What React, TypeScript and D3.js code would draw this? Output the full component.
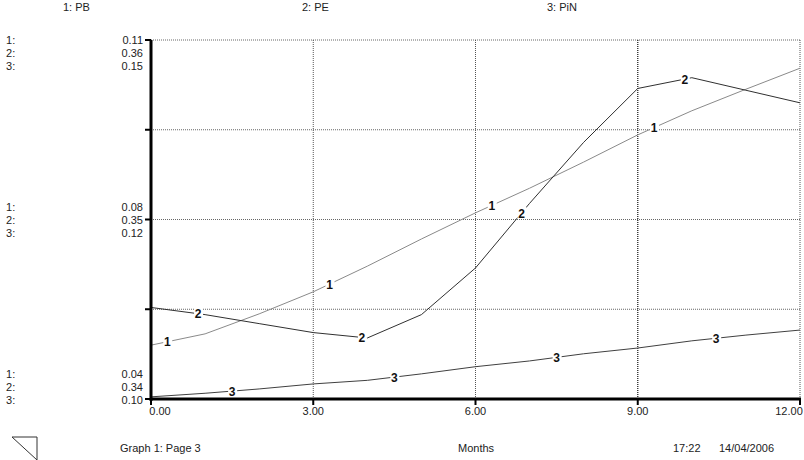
import React from "react";
import * as d3 from "d3";

const months = [0, 1, 2, 3, 4, 5, 6, 7, 8, 9, 10, 11, 12];
const pb = [0.0505, 0.0527, 0.0566, 0.0609, 0.0659, 0.0712, 0.0763, 0.0811, 0.0862, 0.0915, 0.0962, 0.1004, 0.1045];
const pe = [0.3451, 0.3447, 0.3442, 0.3437, 0.3434, 0.3447, 0.3473, 0.3509, 0.3543, 0.3573, 0.3579, 0.3572, 0.3565];
const pin = [0.1003, 0.1008, 0.1014, 0.1021, 0.1026, 0.1035, 0.1045, 0.1053, 0.1063, 0.1071, 0.1081, 0.1089, 0.1096];

const seriesNames = ["1: PB", "2: PE", "3: PiN"];
const domains: [number, number][] = [[0.04, 0.11], [0.34, 0.36], [0.10, 0.15]];
const topLabels = ["0.11", "0.36", "0.15"];
const midLabels = ["0.08", "0.35", "0.12"];
const botLabels = ["0.04", "0.34", "0.10"];
const xTicks = [0, 3, 6, 9, 12];
const xTickLabels = ["0.00", "3.00", "6.00", "9.00", "12.00"];
const labelPos = [
  [0.3, 3.3, 6.3, 9.3],
  [0.87, 3.9, 6.85, 9.87],
  [1.5, 4.5, 7.5, 10.45],
];
const colors = ["#8a8a8a", "#303030", "#404040"];

const L = 151, R = 800, T = 40, B = 399;
const FONT = "'Liberation Sans', Arial, sans-serif";

export default function App() {
  const x = d3.scaleLinear().domain([0, 12]).range([L, R]);
  const data = [pb, pe, pin];
  const ys = domains.map((d) => d3.scaleLinear().domain(d).range([B, T]));
  const gridY = [0, 1, 2, 3].map((i) => T + ((B - T) * i) / 4);

  const interp = (arr: number[], t: number) => {
    const i = Math.min(Math.floor(t), 11);
    const f = t - i;
    return arr[i] * (1 - f) + arr[i + 1] * f;
  };

  return (
    <svg width={804} height={460} style={{ position: "absolute", left: 0, top: 0, fontFamily: FONT }}>
      <rect width={804} height={460} fill="#fff" />
      {/* header */}
      {seriesNames.map((n, i) => (
        <text key={n} x={[63, 302, 547][i]} y={11} fontSize={11} fill="#222">{n}</text>
      ))}
      {/* grid */}
      {gridY.map((gy) => (
        <line key={"gy" + gy} x1={L} x2={R} y1={gy} y2={gy} stroke="#666" strokeWidth={1} strokeDasharray="1,1" />
      ))}
      {xTicks.slice(1).map((t) => (
        <line key={"gx" + t} x1={x(t)} x2={x(t)} y1={T} y2={B} stroke={t === 9 ? "#333" : "#555"} strokeWidth={t === 9 ? 1.4 : 1} strokeDasharray="1,1" />
      ))}
      {/* series */}
      {data.map((arr, si) => {
        const line = d3.line<number>().x((_, i) => x(months[i])).y((v) => ys[si](v));
        return <path key={"s" + si} d={line(arr) || ""} fill="none" stroke={colors[si]} strokeWidth={1} />;
      })}
      {data.map((arr, si) =>
        labelPos[si].map((t) => {
          const px = x(t), py = ys[si](interp(arr, t));
          return (
            <g key={"l" + si + t}>
              <rect x={px - 4} y={py - 6} width={9} height={12} fill="#fff" />
              <text x={px} y={py + 4.5} fontSize={12} fontWeight="bold" textAnchor="middle" fill="#111">{si + 1}</text>
            </g>
          );
        })
      )}
      {/* axes */}
      <line x1={L} x2={L} y1={T} y2={B + 2} stroke="#000" strokeWidth={3} />
      <line x1={L - 1} x2={R + 1} y1={B} y2={B} stroke="#000" strokeWidth={3} />
      {gridY.map((gy) => (
        <line key={"ty" + gy} x1={L - 6} x2={L} y1={gy} y2={gy} stroke="#000" strokeWidth={2} />
      ))}
      <line x1={L - 6} x2={L} y1={B} y2={B} stroke="#000" strokeWidth={2} />
      {xTicks.map((t) => (
        <line key={"tx" + t} x1={x(t)} x2={x(t)} y1={B} y2={B + 6} stroke="#000" strokeWidth={2} />
      ))}
      {/* x labels */}
      {xTickLabels.map((lab, i) => (
        <text key={lab} x={i === 0 ? 160 : i === 4 ? 789 : x(xTicks[i])} y={415} fontSize={11} textAnchor="middle" fill="#222">{lab}</text>
      ))}
      {/* y labels */}
      {[0, 1, 2].map((i) => (
        <g key={"yl" + i} fontSize={11} fill="#222">
          <text x={6} y={44 + i * 13}>{i + 1}:</text>
          <text x={143} y={44 + i * 13} textAnchor="end">{topLabels[i]}</text>
          <text x={6} y={211 + i * 13}>{i + 1}:</text>
          <text x={143} y={211 + i * 13} textAnchor="end">{midLabels[i]}</text>
          <text x={6} y={378 + i * 13}>{i + 1}:</text>
          <text x={143} y={378 + i * 13} textAnchor="end">{botLabels[i]}</text>
        </g>
      ))}
      {/* footer */}
      <path d="M12,437 L37,437 L37,460 Z" fill="none" stroke="#333" strokeWidth={1} />
      <text x={120} y={452} fontSize={11} fill="#222">Graph 1: Page 3</text>
      <text x={458} y={452} fontSize={11} fill="#222">Months</text>
      <text x={673} y={452} fontSize={11} fill="#222">17:22</text>
      <text x={719} y={452} fontSize={11} fill="#222">14/04/2006</text>
    </svg>
  );
}
